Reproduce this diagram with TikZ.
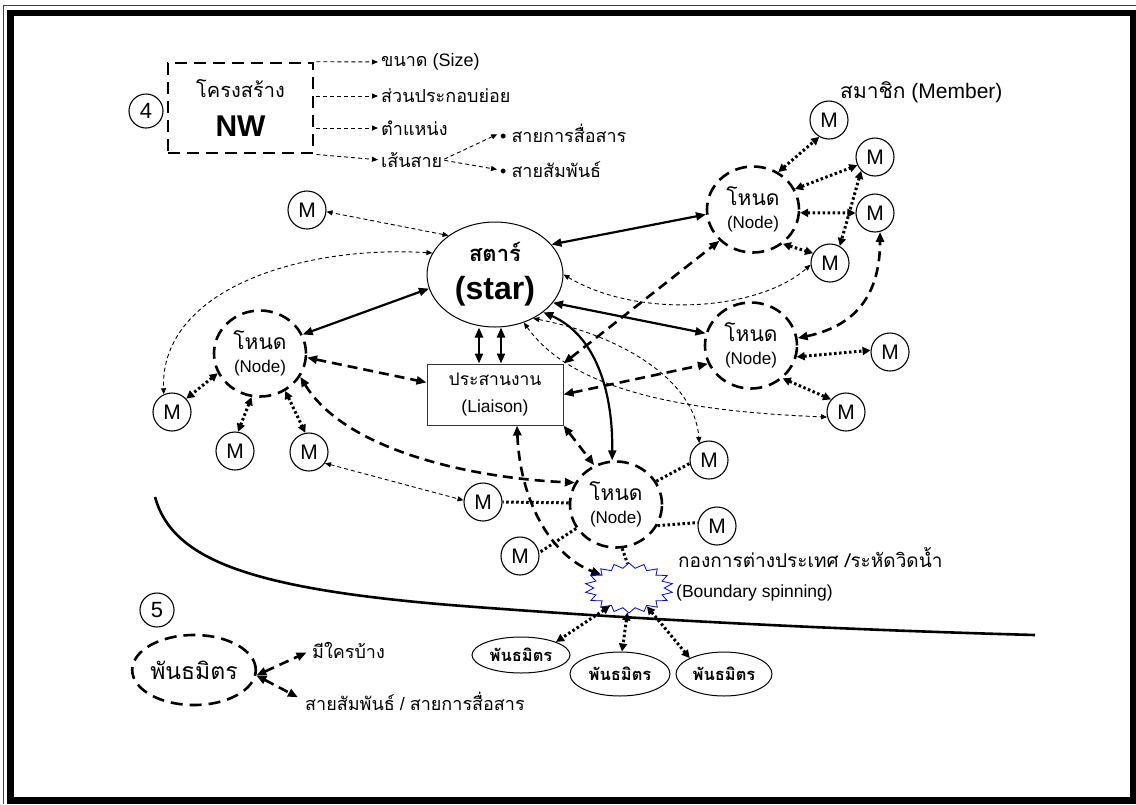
\documentclass[tikz,border=0pt]{standalone}
\usepackage{fontspec}
\setmainfont{Liberation Sans}
\newfontfamily\thai[Script=Thai]{Loma}
\usetikzlibrary{arrows.meta,shapes.geometric}

\begin{document}
\begin{tikzpicture}[x=1pt,y=-1pt,
    member/.style ={circle, draw, line width=1.1pt, inner sep=0pt, minimum size=38pt, font=\fontsize{21}{21}\selectfont},
    hub/.style ={ellipse, draw, line width=2.6pt, dash pattern=on 12pt off 7pt, inner sep=0pt, minimum width=92pt, minimum height=86pt, align=center},
    ally/.style ={ellipse, draw, line width=1pt, inner sep=0pt, font=\thai\bfseries\fontsize{16.5}{16.5}\selectfont},
    tag/.style ={anchor=west, inner sep=0pt, font=\fontsize{18}{20}\selectfont},
    num/.style ={circle, draw, line width=1.1pt, inner sep=0pt, minimum size=34pt, font=\fontsize{22}{22}\selectfont},
    strong/.style ={line width=2.2pt, {Triangle[length=10pt,width=8pt]}-{Triangle[length=10pt,width=8pt]}},
    dashlink/.style ={line width=2.6pt, dash pattern=on 10pt off 6pt, {Triangle[length=10pt,width=8pt]}-{Triangle[length=10pt,width=8pt]}},
    thinlink/.style ={line width=0.9pt, dash pattern=on 4pt off 3pt, {Triangle[length=6pt,width=5pt]}-{Triangle[length=6pt,width=5pt]}},
    thinto/.style ={line width=0.9pt, dash pattern=on 4pt off 3pt, -{Triangle[length=6pt,width=5pt]}, shorten >=3pt, shorten <=2pt},
    dotlink/.style ={line width=3pt, dash pattern=on 2.5pt off 2.5pt, {Triangle[length=8pt,width=8pt]}-{Triangle[length=8pt,width=8pt]}},
    dotline/.style ={line width=3pt, dash pattern=on 2.5pt off 2.5pt}]
   \useasboundingbox (0,0) rectangle (1136,804);
   % frame
   \draw[line width=1.5pt, black!75] (3.5,804) -- (3.5,5.5) -- (1136,5.5);
   \draw[line width=6.5pt] (10.5,13) rectangle (1133.5,800.5);

   % structure box
   \node[num] (four) at (146,111) {4};
   \node[draw, line width=2.6pt, dash pattern=on 12pt off 7pt, minimum width=145pt, minimum height=90pt, inner sep=0pt, align=center] (nw) at (240.5,108) {{\thai\fontsize{20}{20}\selectfont โครงสร้าง}\\[18pt]{\bfseries\fontsize{30}{30}\selectfont NW}};
   \node[tag] (size) at (381,62) {{\thai ขนาด} (Size)};
   \node[tag] (part) at (381,96) {\thai ส่วนประกอบย่อย};
   \node[tag] (pos) at (381,128) {\thai ตำแหน่ง};
   \node[tag] (tie) at (381,160) {\thai เส้นสาย};
   \node[tag] (comm) at (500,133) {\textbullet\ {\thai สายการสื่อสาร}};
   \node[tag] (rel) at (500,170) {\textbullet\ {\thai สายสัมพันธ์}};
   \draw[thinto] (nw.north east) -- (size.west);
   \draw[thinto] (nw.east |- part.west) -- (part.west);
   \draw[thinto] (nw.east |- pos.west) -- (pos.west);
   \draw[thinto] (nw.south east) -- (tie.west);
   \draw[thinto] (tie.east) -- (comm.west);
   \draw[thinto] (tie.east) -- (rel.west);

   \node[tag, font=\fontsize{21}{23}\selectfont] (members) at (840,92) {{\thai สมาชิก} (Member)};

   % core
   \node[ellipse, draw, line width=1pt, minimum width=136pt, minimum height=105pt, inner sep=0pt, align=center] (star) at (495,274.5) {{\thai\bfseries\fontsize{22}{22}\selectfont สตาร์}\\[14pt]{\bfseries\fontsize{32}{32}\selectfont (star)}};
   \node[draw=black!80, line width=1pt, minimum width=136pt, minimum height=61pt, inner sep=0pt, align=center, font=\fontsize{17.5}{17.5}\selectfont] (liaison) at (495,394.5) {{\thai ประสานงาน}\\[10pt](Liaison)};

   \node[hub] (hubL) at (260,353.5) {{\thai\fontsize{21}{21}\selectfont โหนด}\\[10pt]{\fontsize{17}{17}\selectfont (Node)}};
   \node[hub] (hubTR) at (753,209.5) {{\thai\fontsize{21}{21}\selectfont โหนด}\\[10pt]{\fontsize{17}{17}\selectfont (Node)}};
   \node[hub] (hubR) at (751,345.5) {{\thai\fontsize{21}{21}\selectfont โหนด}\\[10pt]{\fontsize{17}{17}\selectfont (Node)}};
   \node[hub] (hubB) at (616,504.5) {{\thai\fontsize{21}{21}\selectfont โหนด}\\[10pt]{\fontsize{17}{17}\selectfont (Node)}};

   \node[member] (mTop) at (307,210) {M};
   \node[member] (mL1) at (172,412) {M};
   \node[member] (mL2) at (235,451) {M};
   \node[member] (mL3) at (309,452) {M};
   \node[member] (mTR1) at (829,120) {M};
   \node[member] (mTR2) at (875,157) {M};
   \node[member] (mTR3) at (875,213) {M};
   \node[member] (mTR4) at (830,263) {M};
   \node[member] (mR1) at (890,352) {M};
   \node[member] (mR2) at (846,412) {M};
   \node[member] (mB1) at (483,502) {M};
   \node[member] (mB2) at (520,556) {M};
   \node[member] (mB3) at (709,460) {M};
   \node[member] (mB4) at (717,526) {M};

   % boundary spanner
   \begin{scope}[shift={(629,588)}, xscale=1.76]
     \node[star, star points=18, star point ratio=1.25, draw=blue, line width=0.8pt, minimum size=50pt, inner sep=0pt, transform shape] (span) at (0,0) {};
   \end{scope}
   \node[tag, font=\fontsize{19}{21}\selectfont] (office) at (678,557) {\thai กองการต่างประเทศ /ระหัดวิดน้ำ};
   \node[tag, font=\fontsize{17.5}{19}\selectfont] (spanlbl) at (676,593) {(Boundary spinning)};

   \draw[line width=2.6pt] (155,497) .. controls (172,558) and (245,588) .. (450,605) .. controls (640,620) and (850,630) .. (1035,635);

   % partners
   \node[num] (five) at (157,610) {5};
   \node[ellipse, draw, line width=2.6pt, dash pattern=on 12pt off 7pt, minimum width=112pt, minimum height=70pt, inner sep=0pt, font=\thai\fontsize{23}{23}\selectfont] (allyKey) at (194,670) {พันธมิตร};
   \node[tag] (who) at (312,650) {\thai มีใครบ้าง};
   \node[tag] (links) at (305,701) {{\thai สายสัมพันธ์} / {\thai สายการสื่อสาร}};
   \draw[dashlink, shorten >=6pt] (allyKey.-5) -- (who.west);
   \draw[dashlink, shorten >=8pt] (allyKey.-5) -- (links.west);

   \node[ally, minimum width=98pt, minimum height=36pt] (ally1) at (521,655) {พันธมิตร};
   \node[ally, minimum width=100pt, minimum height=44pt] (ally2) at (620,674) {พันธมิตร};
   \node[ally, minimum width=96pt, minimum height=44pt] (ally3) at (724,674) {พันธมิตร};

   % ties
   \draw[strong] (star.28) -- (hubTR.186);
   \draw[strong] (star.192) -- (hubL.24);
   \draw[strong] (star.-26) -- (hubR.165);
   \draw[strong] (star.-38) .. controls (595,335) and (613,390) .. (hubB.95);
   \draw[strong] ([xshift=-16pt]star.south) -- ([xshift=-16pt]liaison.north);
   \draw[strong] ([xshift=6pt]star.south) -- ([xshift=6pt]liaison.north);

   \draw[dashlink] (hubL.-5) -- (liaison.170);
   \draw[dashlink] (hubL.-30) .. controls (345,450) and (470,478) .. (hubB.152);
   \draw[dashlink] (liaison.north east) -- (hubTR.223);
   \draw[dashlink] (liaison.east) -- (hubR.203);
   \draw[dashlink] (liaison.south east) -- (hubB.119);
   \draw[dashlink] ([xshift=22pt]liaison.south) .. controls (520,500) and (550,555) .. (span.140);
   \draw[dashlink] (hubR.9) .. controls (860,325) and (880,290) .. (mTR3.285);

   \draw[thinlink] (star.140) -- (mTop.-5);
   \draw[thinlink] (star.161) .. controls (300,245) and (160,290) .. (mL1.115);
   \draw[thinlink] (star.0) .. controls (640,320) and (760,310) .. (mTR4.185);
   \draw[thinlink] (star.-49) .. controls (620,335) and (695,380) .. (mB3.120);
   \draw[thinlink] (star.-59) .. controls (575,395) and (700,412) .. (mR2.195);
   \draw[thinlink] (mL3.-35) -- (mB1.175);

   \draw[dotlink] (hubL.205) -- (mL1.43);
   \draw[dotlink] (hubL.259) -- (mL2.81);
   \draw[dotlink] (hubL.-56) -- (mL3.101);
   \draw[dotlink] (hubTR.56) -- (mTR1.240);
   \draw[dotlink] (hubTR.26) -- (mTR2.205);
   \draw[dotlink] (hubTR.-4) -- (mTR3.180);
   \draw[dotlink] (hubTR.-49) -- (mTR4.150);
   \draw[dotlink] (mTR2.225) -- (mTR4.60);
   \draw[dotlink] (hubR.-14) -- (mR1.175);
   \draw[dotlink] (hubR.-46) -- (mR2.140);
   \draw[dotline] (hubB.30) -- (mB3.190);
   \draw[dotline] (hubB.-27) -- (mB4.170);
   \draw[dotline] (hubB.178) -- (mB1.east);
   \draw[dotline] (hubB.211) -- (mB2.10);
   \draw[dotline] (hubB.-82) -- (span.92);
   \draw[dotlink] (span.239) -- (ally1.north east);
   \draw[dotlink] (span.268) -- (ally2.85);
   \draw[dotlink] (span.299) -- (ally3.north west);
\end{tikzpicture}
\end{document}
